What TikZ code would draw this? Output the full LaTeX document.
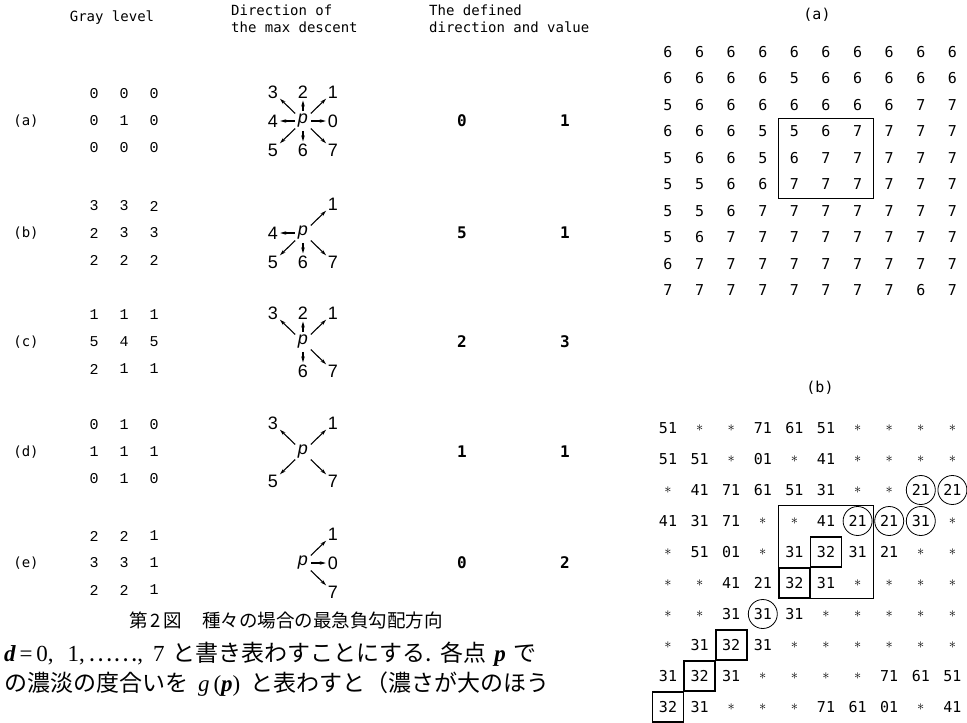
\documentclass[tikz,border=0pt]{standalone}
\usepackage{fontspec}
\setmainfont{Liberation Serif}
\setsansfont{Liberation Sans}
\newfontfamily\tw{DejaVu Sans Mono}
\newfontfamily\twl{Liberation Mono}
\newfontfamily\cjk{Noto Sans CJK JP}
\usetikzlibrary{arrows.meta, positioning, calc, fit}

\newcommand\st{$\ast$}
% 3x3 gray levels of one case
\newcommand\graymat[3]{%
  \foreach \row [count=\ri] in {#3} {
    \foreach \v [count=\ci] in \row
      \node[graycell] (#1-\ri-\ci) at ({64+30*\ci},{#2+27*(\ri-2)}) {\v};
  }}
% point p with its descent directions
\newcommand\dirstar[3]{%
  \node[pnode] (#1) at #2 {p};
  \foreach \d in {#3} {
    \pgfmathsetmacro\ox{30*round(cos(45*\d))}
    \pgfmathsetmacro\oy{-29*round(sin(45*\d))}
    \node[dirlab] (#1-\d) at ($(#1)+(\ox,\oy)$) {\d};
    \draw[dirarrow] (#1) -- (#1-\d);
  }}

\begin{document}
\begin{tikzpicture}[
  x=1pt, y=-1pt,
  headtxt/.style  = {font=\tw\fontsize{14}{17}\selectfont, align=left, inner sep=0pt},
  caselab/.style  = {font=\tw\fontsize{14}{17}\selectfont, inner sep=0pt},
  graycell/.style = {font=\twl\fontsize{15}{16}\selectfont, inner sep=0pt},
  pnode/.style    = {font=\sffamily\itshape\fontsize{18}{19}\selectfont, inner sep=1.5pt},
  dirlab/.style   = {font=\sffamily\fontsize{18}{19}\selectfont, inner sep=1pt},
  dirarrow/.style = {-{Stealth[length=6pt,width=3.5pt]}, line width=1.1pt,
                     shorten <=1.5pt, shorten >=1pt},
  result/.style   = {font=\tw\bfseries\fontsize{16}{18}\selectfont, inner sep=0pt},
  tag/.style      = {font=\tw\fontsize{15}{17}\selectfont, inner sep=0pt},
  cell/.style     = {font=\tw\fontsize{15}{17}\selectfont, minimum width=31.6pt,
                     minimum height=26.5pt, inner sep=0pt},
  cellb/.style    = {cell, minimum height=31pt},
  boxframe/.style = {draw, line width=0.6pt, inner sep=0pt},
  hit/.style      = {draw, line width=1.8pt, inner sep=-0.5pt},
  ring/.style     = {draw, circle, line width=0.8pt, minimum size=29pt, inner sep=0pt},
  jp/.style       = {font=\cjk\fontsize{23}{25}\selectfont, inner sep=0pt},
  jpcap/.style    = {font=\cjk\fontsize{18.5}{20}\selectfont, inner sep=0pt}
]
  \useasboundingbox (0,0) rectangle (967,723);

  % column heads
  \node[headtxt] (hgray) at (112,18) {Gray level};
  \node[headtxt, anchor=north west] (hdir) at (231,5) {Direction of\\the max descent};
  \node[headtxt, anchor=north west] (hdef) at (429,5) {The defined\\direction and value};

  % the five cases
  \foreach \lab/\y in {a/121, b/233, c/342, d/452, e/563}
    \node[caselab] (case-\lab) at (26,\y) {(\lab)};

  \graymat{ga}{121}{{0,0,0},{0,1,0},{0,0,0}}
  \graymat{gb}{233}{{3,3,2},{2,3,3},{2,2,2}}
  \graymat{gc}{342}{{1,1,1},{5,4,5},{2,1,1}}
  \graymat{gd}{452}{{0,1,0},{1,1,1},{0,1,0}}
  \graymat{ge}{563}{{2,2,1},{3,3,1},{2,2,1}}

  \dirstar{pa}{(303,121)}{0,1,2,3,4,5,6,7}
  \dirstar{pb}{(303,233)}{1,4,5,6,7}
  \dirstar{pc}{(303,342)}{1,2,3,6,7}
  \dirstar{pd}{(303,452)}{1,3,5,7}
  \dirstar{pe}{(303,563)}{0,1,7}

  \foreach \lab/\y/\dir/\val in {a/121/0/1, b/233/5/1, c/342/2/3, d/452/1/1, e/563/0/2} {
    \node[result] (dir-\lab) at (462,\y) {\dir};
    \node[result] (val-\lab) at (565,\y) {\val};
  }

  % caption and running text
  \node[jpcap] (cap) at (286,620) {第\,2\,図\hspace{20pt}種々の場合の最急負勾配方向};
  \node[jp, anchor=west] (txt1) at (4,654)
    {{\rmfamily\bfseries\itshape d\,}{\rmfamily =\,0,\hspace{14pt}1,\,}……{\rmfamily ,\hspace{10pt}7}\hspace{8pt}と書き表わすことにする.\hspace{8pt}各点{\rmfamily\bfseries\itshape\hspace{8pt}p\hspace{8pt}}で};
  \node[jp, anchor=west] (txt2) at (4,684)
    {の濃淡の度合いを\hspace{10pt}{\rmfamily\itshape g\,}{\rmfamily (}{\rmfamily\bfseries\itshape p}{\rmfamily )}\hspace{10pt}と表わすと（濃さが大のほう};

  % (a) gray levels of the image
  \node[tag] (ta) at (817,15) {(a)};
  \foreach \row [count=\ri] in {
      {6,6,6,6,6,6,6,6,6,6}, {6,6,6,6,5,6,6,6,6,6}, {5,6,6,6,6,6,6,6,7,7},
      {6,6,6,5,5,6,7,7,7,7}, {5,6,6,5,6,7,7,7,7,7}, {5,5,6,6,7,7,7,7,7,7},
      {5,5,6,7,7,7,7,7,7,7}, {5,6,7,7,7,7,7,7,7,7}, {6,7,7,7,7,7,7,7,7,7},
      {7,7,7,7,7,7,7,7,6,7}} {
    \foreach \v [count=\ci] in \row
      \node[cell] (A-\ri-\ci) at ({636.4+31.6*\ci},{25.5+26.5*\ri}) {\v};
  }
  \node[boxframe, fit=(A-4-5)(A-6-7)] (frame-a) {};

  % (b) directions and values
  \node[tag] (tb) at (820,388) {(b)};
  \foreach \row [count=\ri] in {
      {51,\st,\st,71,61,51,\st,\st,\st,\st},
      {51,51,\st,01,\st,41,\st,\st,\st,\st},
      {\st,41,71,61,51,31,\st,\st,21,21},
      {41,31,71,\st,\st,41,21,21,31,\st},
      {\st,51,01,\st,31,32,31,21,\st,\st},
      {\st,\st,41,21,32,31,\st,\st,\st,\st},
      {\st,\st,31,31,31,\st,\st,\st,\st,\st},
      {\st,31,32,31,\st,\st,\st,\st,\st,\st},
      {31,32,31,\st,\st,\st,\st,71,61,51},
      {32,31,\st,\st,\st,71,61,01,\st,41}} {
    \foreach \v [count=\ci] in \row
      \node[cellb] (B-\ri-\ci) at ({636.4+31.6*\ci},{397+31*\ri}) {\v};
  }
  \node[boxframe, fit=(B-4-5)(B-6-7)] (frame-b) {};
  \foreach \cl in {3-9, 3-10, 4-7, 4-8, 4-9, 7-4}
    \node[ring] (ring-\cl) at (B-\cl) {};
  \foreach \cl in {5-6, 6-5, 8-3, 9-2, 10-1}
    \node[hit, fit=(B-\cl)] (hit-\cl) {};
\end{tikzpicture}
\end{document}
